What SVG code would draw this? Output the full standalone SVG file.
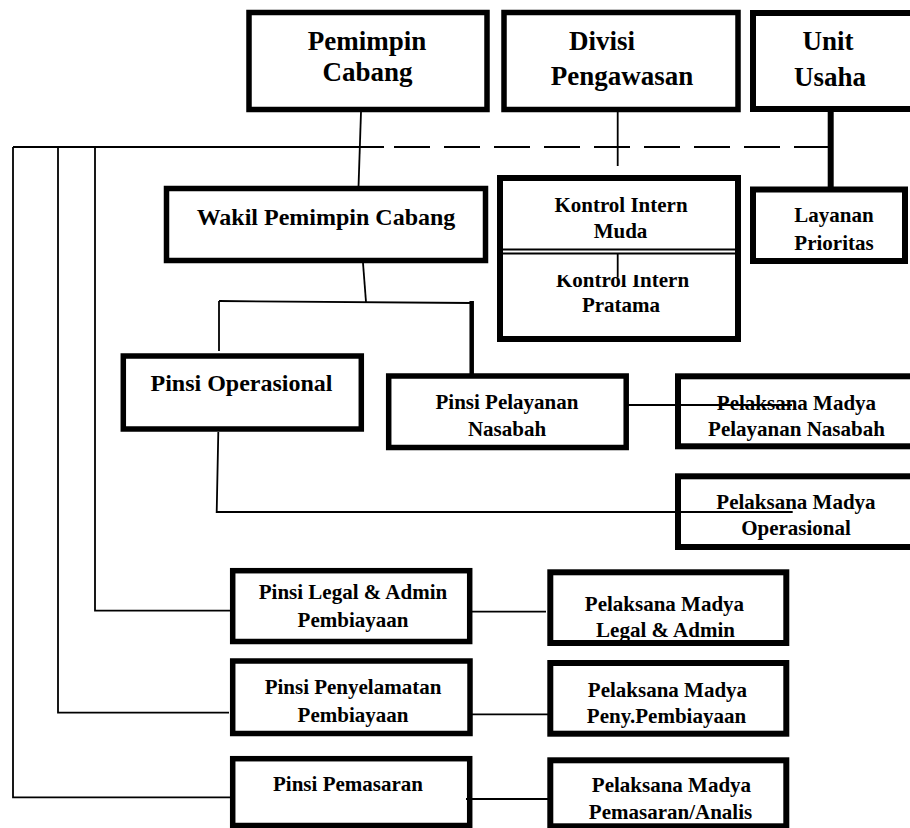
<svg xmlns="http://www.w3.org/2000/svg" width="910" height="828" viewBox="0 0 910 828">
<style>
.box{fill:#fff;stroke:#000;stroke-width:5.5}
.bx6{fill:#fff;stroke:#000;stroke-width:6}
.t{font-family:'Liberation Serif','DejaVu Serif',serif;font-weight:bold;text-anchor:middle;fill:#000}
.f27{font-size:27px}
.f24{font-size:24px}
.f21{font-size:21px}
.ln{stroke:#000;stroke-width:1.8;fill:none}
.dash{stroke:#000;stroke-width:1.8;fill:none;stroke-dasharray:36 14}
</style>
<defs>
<clipPath id="clipK"><rect x="500" y="275" width="240" height="60"/></clipPath>
</defs>
<rect width="910" height="828" fill="#fff"/>

<g id="pemimpin-cabang">
<rect class="box" x="249" y="12.5" width="238" height="97"/>
<text class="t f27" x="367" y="49.5" font-family="Liberation Serif, serif">Pemimpin</text>
<text class="t f27" x="367.5" y="81" font-family="Liberation Serif, serif">Cabang</text>
</g>

<g id="divisi-pengawasan">
<rect class="box" x="504" y="12.5" width="234" height="97"/>
<text class="t f27" x="602" y="50">Divisi</text>
<text class="t f27" x="622" y="85">Pengawasan</text>
</g>

<g id="unit-usaha">
<rect class="bx6" x="753" y="13" width="170" height="96"/>
<text class="t f27" x="828" y="50">Unit</text>
<text class="t f27" x="830" y="86">Usaha</text>
</g>

<g id="wakil-pemimpin-cabang">
<rect class="box" x="166.5" y="188.5" width="319" height="72"/>
<text class="t f24" x="326" y="224.5">Wakil Pemimpin Cabang</text>
</g>

<g id="kontrol-intern">
<rect class="bx6" x="500" y="178" width="238" height="161"/>
<line x1="503" y1="249.5" x2="735" y2="249.5" stroke="#000" stroke-width="2"/>
<line x1="503" y1="253.5" x2="735" y2="253.5" stroke="#000" stroke-width="2"/>
<text class="t f21" x="621" y="211.5">Kontrol Intern</text>
<text class="t f21" x="620.5" y="238">Muda</text>
<text class="t f21" x="622.5" y="287" clip-path="url(#clipK)">Kontrol Intern</text>
<text class="t f21" x="621" y="311.5">Pratama</text>
</g>

<g id="layanan-prioritas">
<rect class="bx6" x="753" y="189.5" width="152" height="71.5"/>
<text class="t f21" x="834" y="221.5">Layanan</text>
<text class="t f21" x="834" y="249.5">Prioritas</text>
</g>

<g id="pinsi-operasional">
<rect class="box" x="123.3" y="356" width="238" height="73"/>
<text class="t f24" x="241.5" y="391">Pinsi Operasional</text>
</g>

<g id="pinsi-pelayanan-nasabah">
<rect class="box" x="388.7" y="376" width="237.5" height="71.5"/>
<text class="t f21" x="507" y="408.5">Pinsi Pelayanan</text>
<text class="t f21" x="507" y="435.5">Nasabah</text>
</g>

<g id="pelaksana-madya-pelayanan-nasabah">
<rect class="bx6" x="678" y="376.3" width="245" height="70"/>
<text class="t f21" x="796.5" y="409.5">Pelaksana Madya</text>
<text class="t f21" x="796.5" y="436">Pelayanan Nasabah</text>
</g>

<g id="pelaksana-madya-operasional">
<rect class="bx6" x="678" y="476.3" width="245" height="70.7"/>
<text class="t f21" x="796" y="508.5">Pelaksana Madya</text>
<text class="t f21" x="796" y="535">Operasional</text>
</g>

<g id="pinsi-legal-admin">
<rect class="box" x="232.7" y="570.7" width="237" height="70.8"/>
<text class="t f21" x="353" y="599.3">Pinsi Legal &amp; Admin</text>
<text class="t f21" x="353" y="627">Pembiayaan</text>
</g>

<g id="pinsi-penyelamatan">
<rect class="box" x="232.7" y="661" width="237.3" height="72.5"/>
<text class="t f21" x="353" y="694">Pinsi Penyelamatan</text>
<text class="t f21" x="353" y="721.7">Pembiayaan</text>
</g>

<g id="pinsi-pemasaran">
<rect class="box" x="232.7" y="758.7" width="237" height="66.8"/>
<text class="t f21" x="348" y="791">Pinsi Pemasaran</text>
</g>

<g id="pelaksana-legal-admin">
<rect class="bx6" x="550.3" y="572.3" width="236" height="70.7"/>
<text class="t f21" x="664.5" y="610.7">Pelaksana Madya</text>
<text class="t f21" x="665.5" y="636.7">Legal &amp; Admin</text>
</g>

<g id="pelaksana-peny-pembiayaan">
<rect class="bx6" x="550.3" y="663" width="236" height="70.7"/>
<text class="t f21" x="667.5" y="696.7">Pelaksana Madya</text>
<text class="t f21" x="666.5" y="723.3">Peny.Pembiayaan</text>
</g>

<g id="pelaksana-pemasaran-analis">
<rect class="bx6" x="550.3" y="760.3" width="236" height="66"/>
<text class="t f21" x="671.5" y="791.7">Pelaksana Madya</text>
<text class="t f21" x="670.5" y="819.3">Pemasaran/Analis</text>
</g>

<g id="connectors">
<path class="ln" d="M361,112 L358.5,187"/>
<path class="ln" d="M13,147 L384,147"/>
<path class="dash" d="M830,147 L380,147"/>
<path class="ln" d="M617.7,112 L617.7,166"/>
<path class="ln" d="M617.7,254 L617.7,277.5"/>
<line x1="830.7" y1="112" x2="830.7" y2="187" stroke="#000" stroke-width="6"/>
<path class="ln" d="M363,263 L366,302"/>
<path class="ln" d="M219,301 L472,303"/>
<path class="ln" d="M219,301 L219,351"/>
<line x1="471.7" y1="301" x2="471.7" y2="374" stroke="#000" stroke-width="4.5"/>
<path class="ln" d="M218.3,432 L216.7,512 L792.7,512"/>
<path class="ln" d="M628,405 L792,405"/>
<path class="ln" d="M95,147 L95,610.7 L230,610.7"/>
<path class="ln" d="M58,147 L58,712.7 L229,712.7"/>
<path class="ln" d="M13,147 L13,797.3 L230,797.3"/>
<path class="ln" d="M472,611.7 L546,611.7"/>
<path class="ln" d="M472,714.3 L553,714.3"/>
<path class="ln" d="M466,799 L553,799"/>
</g>
</svg>
